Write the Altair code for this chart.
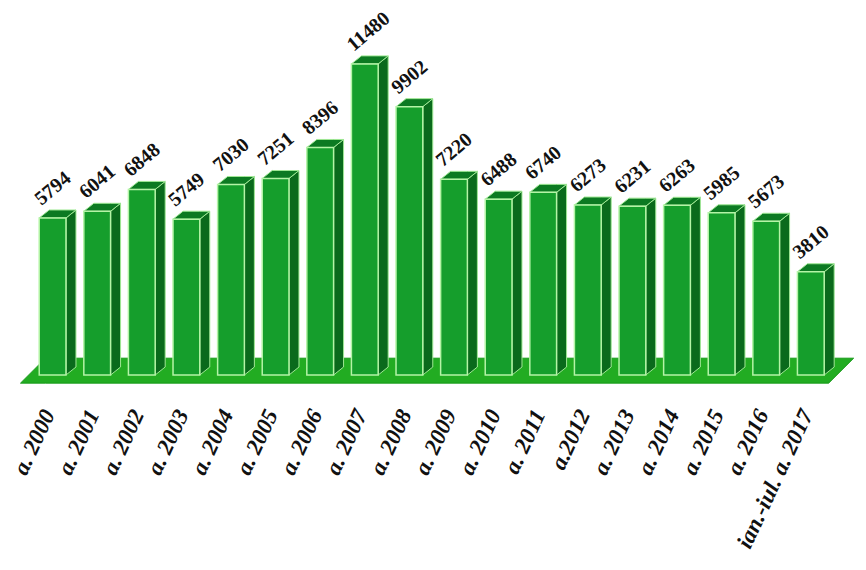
import altair as alt
import pandas as pd

categories = ["a. 2000", "a. 2001", "a. 2002", "a. 2003", "a. 2004", "a. 2005",
              "a. 2006", "a. 2007", "a. 2008", "a. 2009", "a. 2010", "a. 2011",
              "a.2012", "a. 2013", "a. 2014", "a. 2015", "a. 2016", "ian.-iul. a. 2017"]
values = [5794, 6041, 6848, 5749, 7030, 7251, 8396, 11480, 9902, 7220,
          6488, 6740, 6273, 6231, 6263, 5985, 5673, 3810]

# geometry (in data units)
HALF = 0.30      # half width of front face
SIDE = 0.224     # depth offset horizontally
DEPTH = 295      # depth offset vertically (value units)

n = len(values)
front = pd.DataFrame({"i": list(range(n)), "v": values, "cat": categories})
front["x1"] = front["i"] - HALF
front["x2"] = front["i"] + HALF
front["y0"] = 0

side_rows, top_rows = [], []
for i, v in enumerate(values):
    side_rows.append({"bar": f"b{i}", "px": i + HALF, "py": v, "py2": 0})
    side_rows.append({"bar": f"b{i}", "px": i + HALF + SIDE, "py": v + DEPTH, "py2": DEPTH})
    top_rows.append({"bar": f"b{i}", "px": i - HALF, "py": v, "py2": v})
    top_rows.append({"bar": f"b{i}", "px": i - HALF + SIDE, "py": v + DEPTH, "py2": v})
    top_rows.append({"bar": f"b{i}", "px": i + HALF, "py": v + DEPTH, "py2": v})
    top_rows.append({"bar": f"b{i}", "px": i + HALF + SIDE, "py": v + DEPTH, "py2": v + DEPTH})
side = pd.DataFrame(side_rows)
top = pd.DataFrame(top_rows)

floor = pd.DataFrame([
    {"bar": "floor", "px": -0.72, "py": -300, "py2": -300},
    {"bar": "floor", "px": -0.16, "py": 620, "py2": -300},
    {"bar": "floor", "px": n - 1 + 0.40, "py": 620, "py2": -300},
    {"bar": "floor", "px": n - 1 + 0.96, "py": 620, "py2": 620},
])

vals = pd.DataFrame({
    "lx": [i - HALF + 0.05 for i in range(n)],
    "ly": [v + 440 for v in values],
    "lab": [str(v) for v in values],
})
cats = pd.DataFrame({
    "ax": [i - 0.08 for i in range(n)],
    "ay": [-1330] * n,
    "cat": categories,
})

xs = alt.Scale(domain=[-1.0, 18.058], nice=False, zero=False)
ys = alt.Scale(domain=[-6900, 13542], nice=False, zero=False)


def poly(df, fill, stroke):
    return alt.Chart(df).mark_area(
        color=fill, stroke=stroke, strokeWidth=1, interpolate="linear"
    ).encode(
        x=alt.X("px:Q", scale=xs, axis=None),
        y=alt.Y("py:Q", scale=ys, axis=None, stack=None),
        y2=alt.Y2("py2:Q"),
        detail=alt.Detail("bar:N"),
    )


floor_m = poly(floor, "#22ac22", "#169a18")
side_m = poly(side, "#0a6a1c", "#9fe894")
top_m = poly(top, "#0c7a22", "#9fe894")

front_m = alt.Chart(front).mark_rect(color="#159e2c", stroke="#b4f4a6", strokeWidth=1.5).encode(
    x=alt.X("x1:Q", scale=xs, axis=None),
    x2="x2:Q",
    y=alt.Y("v:Q", scale=ys, axis=None),
    y2="y0:Q",
)

val_m = alt.Chart(vals).mark_text(
    font="Liberation Serif", fontWeight="bold", fontSize=20, angle=320,
    align="left", baseline="alphabetic", color="#111111",
).encode(
    x=alt.X("lx:Q", scale=xs, axis=None),
    y=alt.Y("ly:Q", scale=ys, axis=None),
    text="lab:N",
)

cat_m = alt.Chart(cats).mark_text(
    font="Liberation Serif", fontWeight="bold", fontStyle="italic", fontSize=23, angle=295,
    align="right", baseline="middle", color="#111111",
).encode(
    x=alt.X("ax:Q", scale=xs, axis=None),
    y=alt.Y("ay:Q", scale=ys, axis=None),
    text="cat:N",
)

chart = alt.layer(floor_m, side_m, top_m, front_m, val_m, cat_m).properties(
    width=850, height=554, padding=0,
    autosize=alt.AutoSizeParams(type="none"),
).configure_view(stroke=None)

chart.save("out.html", embed_options={"renderer": "svg", "actions": False})
